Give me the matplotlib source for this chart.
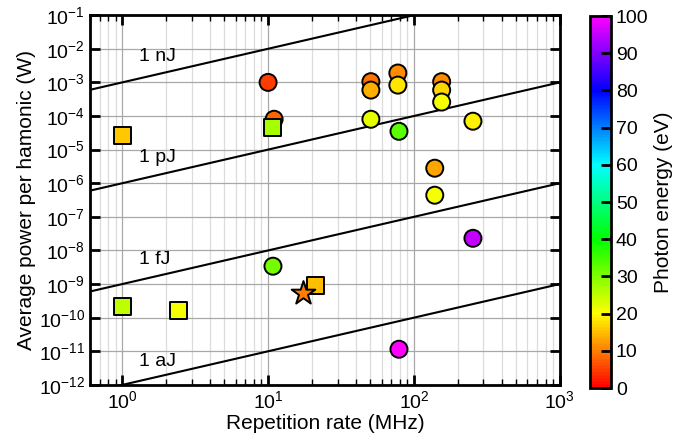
import matplotlib
matplotlib.use('Agg')
import matplotlib.pyplot as plt
import numpy as np
from matplotlib import colors, ticker

plt.rcParams['font.family'] = ['Liberation Sans', 'DejaVu Sans']
plt.rcParams['mathtext.fontset'] = 'custom'
plt.rcParams['mathtext.rm'] = 'Liberation Sans'
plt.rcParams['mathtext.it'] = 'Liberation Sans:italic'

# circles: repetition rate (MHz), power (W), photon energy (eV)
circ_rate = [10.0, 11.0, 50.7, 50.7, 77.6, 77.6, 155, 155, 155, 50.7, 79, 254, 139, 139, 254, 79, 10.8]
circ_power = [1e-3, 8e-5, 1.05e-3, 5.9e-4, 1.9e-3, 8.3e-4, 1.05e-3, 5.9e-4, 2.6e-4, 8e-5, 3.5e-5, 7e-5,
              2.8e-6, 4.4e-7, 2.3e-8, 1.15e-11, 3.4e-9]
circ_energy = [5, 8, 9, 14, 11, 18, 11, 17, 21, 22, 33, 19, 13, 21, 95, 100, 31]

# squares
sq_rate = [1.0, 10.8, 21.3, 1.0, 2.42]
sq_power = [2.7e-5, 4.7e-5, 9e-10, 2.2e-10, 1.6e-10]
sq_energy = [16, 27, 15, 25, 21]

# star
star_rate = [17.4]
star_power = [5.5e-10]
star_energy = [10]

# constant pulse energy lines (J)
pulse_energies = [1e-9, 1e-12, 1e-15, 1e-18]
pulse_labels = ['1 nJ', '1 pJ', '1 fJ', '1 aJ']
label_pos = [(1.3, 6e-3), (1.3, 6e-6), (1.3, 5.5e-9), (1.3, 5e-12)]

# red -> yellow -> green -> cyan -> blue -> magenta, linear in hue
hue = np.linspace(0, 300 / 360, 256)
hsv = np.stack([hue, np.ones_like(hue), np.ones_like(hue)], axis=1)
cmap = colors.ListedColormap(colors.hsv_to_rgb(hsv))
norm = colors.Normalize(0, 100)

fig = plt.figure(figsize=(6.76, 4.46), dpi=100)
ax = fig.add_axes([0.133, 0.137, 0.695, 0.829])
cax = fig.add_axes([0.873, 0.13, 0.031, 0.834])

xlim = (0.6, 1000)
ax.set_xscale('log')
ax.set_yscale('log')
ax.set_xlim(*xlim)
ax.set_ylim(1e-12, 1e-1)

# grid
ax.grid(True, which='major', color='#a8a8a8', linewidth=0.9)
ax.grid(True, which='minor', axis='x', color='#dcdcdc', linewidth=0.9)
ax.set_axisbelow(True)

# pulse energy lines: P = E * f
fx = np.array(xlim)
for E, lab, pos in zip(pulse_energies, pulse_labels, label_pos):
    ax.plot(fx, E * fx * 1e6, color='black', linewidth=1.5, zorder=2)
    ax.text(pos[0], pos[1], lab, fontsize=14, va='center', ha='left')

kw = dict(cmap=cmap, norm=norm, edgecolors='black', linewidths=1.4, zorder=3)
ax.scatter(circ_rate, circ_power, c=circ_energy, s=150, marker='o', **kw)
ax.scatter(sq_rate, sq_power, c=sq_energy, s=150, marker='s', **kw)
ax.scatter(star_rate, star_power, c=star_energy, s=320, marker='*', **kw)

ax.yaxis.set_major_locator(ticker.LogLocator(base=10, numticks=20))
ax.yaxis.set_minor_locator(ticker.NullLocator())
ax.xaxis.set_minor_locator(ticker.LogLocator(base=10, subs=np.arange(2, 10), numticks=20))
ax.xaxis.set_minor_formatter(ticker.NullFormatter())

ax.tick_params(which='major', direction='in', length=7, width=2, top=True, right=True, labelsize=14)
ax.tick_params(which='minor', direction='in', length=4, width=1, top=True, right=True)
for s in ax.spines.values():
    s.set_linewidth(2)

ax.set_xlabel('Repetition rate (MHz)', fontsize=15, labelpad=2)
ax.set_ylabel('Average power per hamonic (W)', fontsize=15, labelpad=2)

sm = plt.cm.ScalarMappable(norm=norm, cmap=cmap)
cb = fig.colorbar(sm, cax=cax, ticks=np.arange(0, 101, 10))
cb.outline.set_linewidth(2)
cax.tick_params(direction='in', length=7, width=2, labelsize=14)
cb.set_label('Photon energy (eV)', fontsize=15)

plt.savefig('out.png', dpi=100)
